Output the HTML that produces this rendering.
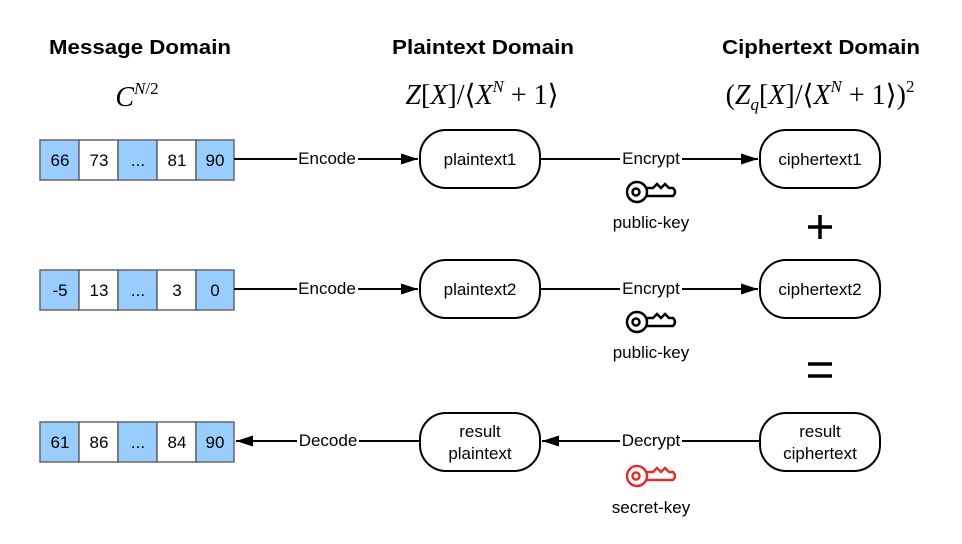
<!DOCTYPE html>
<html><head><style>
body{margin:0;background:#fff;width:962px;height:539px;overflow:hidden}
</style></head><body>
<svg width="962" height="539" xmlns="http://www.w3.org/2000/svg" font-family="Liberation Sans, sans-serif">
<defs>
<marker id="a" markerWidth="17" markerHeight="12" refX="17" refY="6" orient="auto" markerUnits="userSpaceOnUse">
<path d="M0,0.5 L17,6 L0,11.5z" fill="#000"/></marker>
<g id="key" fill="none" stroke-width="2.5">
<circle cx="0" cy="0" r="10"/><circle cx="-1" cy="0" r="3.5"/>
<path d="M10,-4 L16,-4 L20,-8 L24,-4 L28,-8 L32,-4 L36,-4 Q40,0 36,4 L10,4"/>
</g>
</defs>
<g font-weight="bold" font-size="20.5" text-anchor="middle">
<text x="140" y="54" textLength="182" lengthAdjust="spacingAndGlyphs">Message Domain</text>
<text x="483" y="54" textLength="182" lengthAdjust="spacingAndGlyphs">Plaintext Domain</text>
<text x="821" y="54" textLength="198" lengthAdjust="spacingAndGlyphs">Ciphertext Domain</text>
</g>
<g font-family="Liberation Serif, serif" font-size="28" text-anchor="middle">
<text x="137" y="106"><tspan font-style="italic">C</tspan><tspan font-size="17" dy="-12" font-style="italic">N</tspan><tspan font-size="17">/2</tspan></text>
<text x="482" y="104"><tspan font-style="italic">Z</tspan>[<tspan font-style="italic">X</tspan>]/⟨<tspan font-style="italic">X</tspan><tspan font-size="17" dy="-12" font-style="italic">N</tspan><tspan dy="12"> + 1⟩</tspan></text>
<text x="820" y="104">(<tspan font-style="italic">Z</tspan><tspan font-size="17" dy="6" font-style="italic">q</tspan><tspan dy="-6">[</tspan><tspan font-style="italic">X</tspan>]/⟨<tspan font-style="italic">X</tspan><tspan font-size="17" dy="-12" font-style="italic">N</tspan><tspan dy="12"> + 1⟩)</tspan><tspan font-size="17" dy="-12">2</tspan></text>
</g>
<g font-size="17" stroke-width="2">
<g id="arr1">
<rect x="40" y="140" width="39" height="40" fill="#99ccff" stroke="#666" stroke-width="1.5"/>
<rect x="79" y="140" width="39" height="40" fill="#fff" stroke="#666" stroke-width="1.5"/>
<rect x="118" y="140" width="39" height="40" fill="#99ccff" stroke="#666" stroke-width="1.5"/>
<rect x="157" y="140" width="39" height="40" fill="#fff" stroke="#666" stroke-width="1.5"/>
<rect x="196" y="140" width="38" height="40" fill="#99ccff" stroke="#666" stroke-width="1.5"/>
</g>
<use href="#arr1" y="130"/>
<use href="#arr1" y="282"/>
<g text-anchor="middle">
<text x="60" y="166">66</text><text x="99" y="166">73</text><text x="138" y="166">...</text><text x="177" y="166">81</text><text x="215" y="166">90</text>
<text x="60" y="296">-5</text><text x="99" y="296">13</text><text x="138" y="296">...</text><text x="177" y="296">3</text><text x="215" y="296">0</text>
<text x="60" y="448">61</text><text x="99" y="448">86</text><text x="138" y="448">...</text><text x="177" y="448">84</text><text x="215" y="448">90</text>
</g>
<g fill="#fff" stroke="#000">
<rect x="420" y="130" width="120" height="58" rx="26"/>
<rect x="760" y="130" width="120" height="58" rx="26"/>
<rect x="420" y="260" width="120" height="58" rx="26"/>
<rect x="760" y="260" width="120" height="58" rx="26"/>
<rect x="420" y="413" width="120" height="58" rx="26"/>
<rect x="760" y="413" width="120" height="58" rx="26"/>
</g>
<g text-anchor="middle">
<text x="480" y="165">plaintext1</text>
<text x="820" y="165">ciphertext1</text>
<text x="480" y="295">plaintext2</text>
<text x="820" y="295">ciphertext2</text>
<text x="480" y="437">result</text><text x="480" y="459">plaintext</text>
<text x="820" y="437">result</text><text x="820" y="459">ciphertext</text>
</g>
<g stroke="#000" fill="none">
<path d="M234,159 H297 M358,159 H418" marker-end="url(#a)"/>
<path d="M234,289 H297 M358,289 H418" marker-end="url(#a)"/>
<path d="M540,159 H620 M682,159 H758" marker-end="url(#a)"/>
<path d="M540,289 H620 M682,289 H758" marker-end="url(#a)"/>
<path d="M760,441 H682 M620,441 H542" marker-end="url(#a)"/>
<path d="M420,441 H359 M297,441 H236" marker-end="url(#a)"/>
</g>
<g text-anchor="middle">
<text x="327" y="164">Encode</text>
<text x="327" y="294">Encode</text>
<text x="651" y="164">Encrypt</text>
<text x="651" y="294">Encrypt</text>
<text x="651" y="446">Decrypt</text>
<text x="328" y="446">Decode</text>
<text x="651" y="228">public-key</text>
<text x="651" y="358">public-key</text>
<text x="651" y="513">secret-key</text>
</g>
<use href="#key" x="637" y="192" stroke="#000"/>
<use href="#key" x="637" y="322" stroke="#000"/>
<use href="#key" x="637" y="476" stroke="#e03030"/>
<g stroke="#000" stroke-width="3.5">
<path d="M808,227 H832 M820,215 V239"/>
<path d="M808,364 H832 M808,376 H832"/>
</g>
</g>
</svg>
</body></html>
